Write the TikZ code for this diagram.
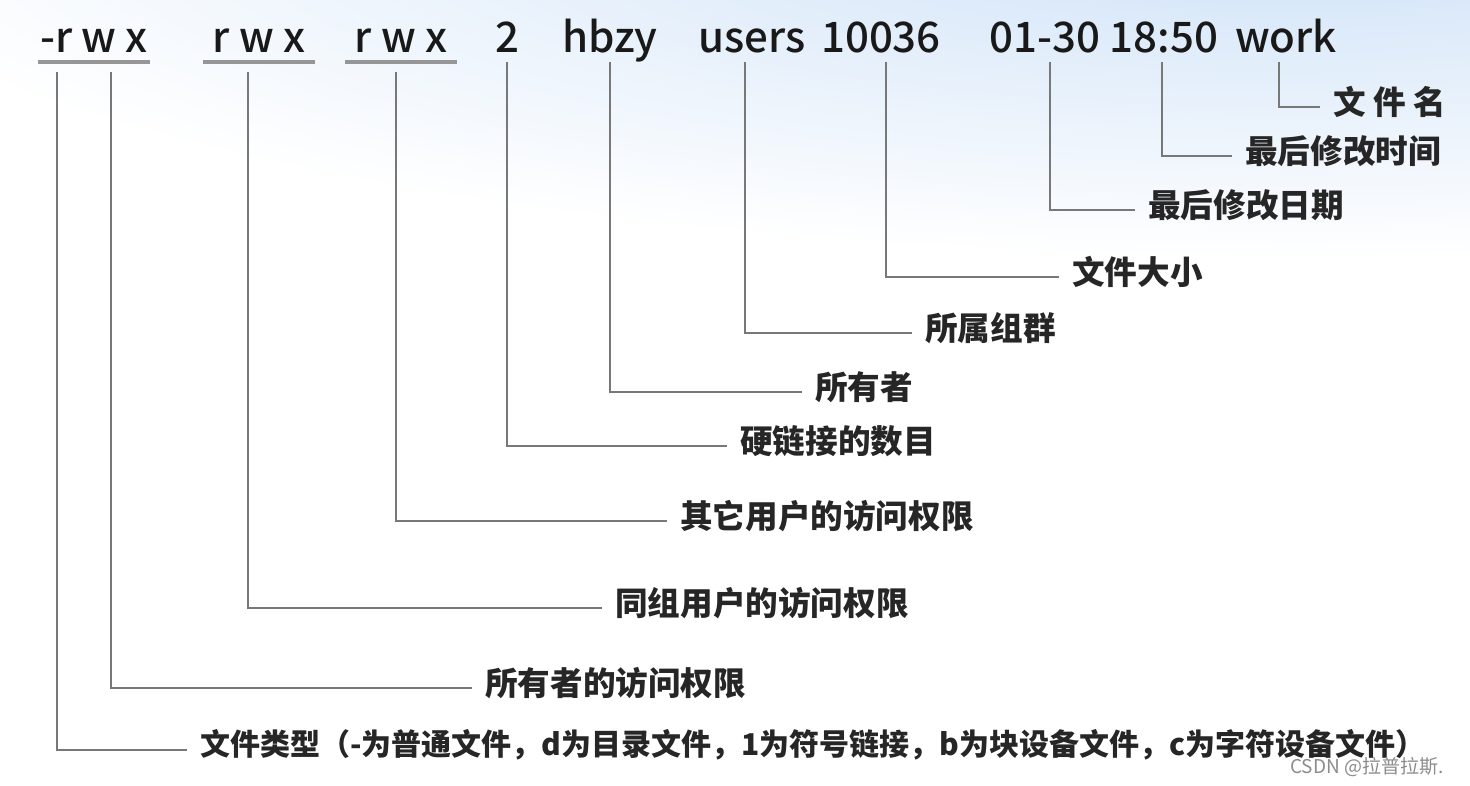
\documentclass[tikz,border=0pt]{standalone}
\usepackage{fontspec}
\newfontfamily\lsSans{Noto Sans CJK SC}[UprightFont=* Medium]
\newfontfamily\cjk{Noto Sans CJK SC}
\definecolor{leadgray}{RGB}{120,120,120}
\definecolor{bargray}{RGB}{150,150,150}
\definecolor{skywash}{RGB}{205,225,247}
\tikzset{
  lsField/.style={font={\lsSans\fontsize{42}{42}\selectfont}, text=black!90, anchor=base, inner sep=0pt},
  lsLabel/.style={font={\cjk\bfseries\fontsize{32.6}{34}\selectfont}, text=black!85, anchor=west, inner sep=0pt},
  lsLead/.style={draw=leadgray, line width=2.2pt, shorten >=13pt},
  lsBar/.style={draw=bargray, line width=4pt}
}
\newcommand{\lsLead}[2]{\draw[lsLead] (#1) |- ([yshift=-5pt]#2.west);}

\begin{document}
\begin{tikzpicture}[x=1pt,y=-1pt]
\useasboundingbox (0,0) rectangle (1470,785);
\fill[white] (0,0) rectangle (1470,785);
\begin{scope}
\clip (0,0) rectangle (1470,785);
\shade[inner color=skywash, outer color=white] (1300,-80) ellipse [x radius=1500, y radius=340];
\end{scope}
% ls -l fields
\node[lsField] (ftperm) at (94,52) {-r w x};
\node[lsField] (gperm) at (259,52) {r w x};
\node[lsField] (xperm) at (401,52) {r w x};
\node[lsField] (links) at (507,52) {2};
\node[lsField] (owner) at (610,52) {hbzy};
\node[lsField] (group) at (752,52) {users};
\node[lsField] (size) at (881,52) {10036};
\node[lsField] (date) at (1045,52) {01-30};
\node[lsField] (time) at (1164,52) {18:50};
\node[lsField] (name) at (1286,52) {work};
\draw[lsBar] (38,62) -- (150,62);
\draw[lsBar] (203,62) -- (315,62);
\draw[lsBar] (345,62) -- (457,62);
% tap points
\coordinate (tapType) at (57,72);
\coordinate (tapOwn) at (111,72);
\coordinate (tapGrp) at (248,72);
\coordinate (tapOth) at (396,72);
\coordinate (tapLinks) at (507,62);
\coordinate (tapOwner) at (610,62);
\coordinate (tapGroup) at (745,62);
\coordinate (tapSize) at (886,62);
\coordinate (tapDate) at (1050,62);
\coordinate (tapTime) at (1162,62);
\coordinate (tapName) at (1279,62);
% labels
\node[lsLabel, font={\cjk\bfseries\fontsize{30}{32}\selectfont}] (lType) at (200,745) {文件类型（-为普通文件，d为目录文件，1为符号链接，b为块设备文件，c为字符设备文件）};
\node[lsLabel] (lOwn) at (485,683) {所有者的访问权限};
\node[lsLabel] (lGrp) at (615,603) {同组用户的访问权限};
\node[lsLabel] (lOth) at (680,516) {其它用户的访问权限};
\node[lsLabel] (lLinks) at (740,441) {硬链接的数目};
\node[lsLabel] (lOwner) at (815,387) {所有者};
\node[lsLabel] (lGroup) at (925,328) {所属组群};
\node[lsLabel] (lSize) at (1072,272) {文件大小};
\node[lsLabel] (lDate) at (1148,205) {最后修改日期};
\node[lsLabel] (lTime) at (1245,151) {最后修改时间};
\node[lsLabel] (lName) at (1333,102) {文 件 名};
% connectors
\lsLead{tapType}{lType}
\lsLead{tapOwn}{lOwn}
\lsLead{tapGrp}{lGrp}
\lsLead{tapOth}{lOth}
\lsLead{tapLinks}{lLinks}
\lsLead{tapOwner}{lOwner}
\lsLead{tapGroup}{lGroup}
\lsLead{tapSize}{lSize}
\lsLead{tapDate}{lDate}
\lsLead{tapTime}{lTime}
\lsLead{tapName}{lName}
\node[font={\cjk\fontsize{19}{19}\selectfont}, text=gray!90, anchor=west, inner sep=0pt] (mark) at (1290,767) {CSDN @拉普拉斯.};
\end{tikzpicture}
\end{document}
